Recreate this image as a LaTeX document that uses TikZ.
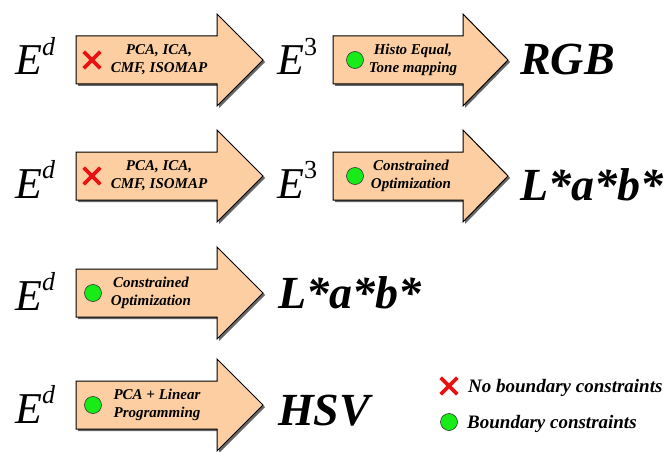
\documentclass[tikz,border=0pt]{standalone}
\usepackage{fontspec}
\setmainfont{Liberation Serif}
\usetikzlibrary{shadows,shapes.misc}
\definecolor{peach}{RGB}{252,206,162}
\definecolor{markred}{RGB}{232,18,18}
\definecolor{dotgreen}{RGB}{24,236,24}

\begin{document}
\begin{tikzpicture}[x=1pt, y=-1pt,
    bigarrow/.style={draw=black, line width=1pt, fill=peach, line join=miter,
      drop shadow={shadow xshift=2pt, shadow yshift=-2pt, fill=black!75, opacity=0.8}},
    boxtext/.style={font=\fontsize{15}{18}\selectfont\bfseries\itshape, align=center, inner sep=0},
    spacename/.style={font=\fontsize{44}{44}\selectfont, anchor=base west, inner sep=0},
    colorspace/.style={font=\fontsize{46}{46}\selectfont\bfseries\itshape, anchor=base west, inner sep=0},
    legendtext/.style={font=\fontsize{19}{19}\selectfont\bfseries\itshape, anchor=base west, inner sep=0},
    nobound/.style={cross out, draw=markred, line width=3.6pt, minimum size=13pt, inner sep=0},
    bound/.style={circle, draw=black!80, line width=0.6pt, fill=dotgreen, minimum size=17pt, inner sep=0}]
    \useasboundingbox[fill=white] (0,0) rectangle (667,452);

    % row 1
    \draw[bigarrow] (76,36) -- (217,36) -- (217,14) -- (263,60) -- (217,106) -- (217,84) -- (76,84) -- cycle;
    \draw[bigarrow] (333,36) -- (463,36) -- (463,14) -- (508,60) -- (463,106) -- (463,84) -- (333,84) -- cycle;
    \node[spacename] (ed1) at (15,75) {\textit{E}\raisebox{20pt}{\fontsize{26}{26}\selectfont\textit{d}}};
    \node[nobound] (x1) at (92,60) {};
    \node[boxtext] (pca1) at (159,60) {PCA, ICA,\\CMF, ISOMAP};
    \node[spacename] (e31) at (277,75) {\textit{E}\raisebox{20pt}{\fontsize{26}{26}\selectfont 3}};
    \node[bound] (dot1) at (355,60) {};
    \node[boxtext] (histo) at (413,60) {Histo Equal,\\Tone mapping};
    \node[colorspace] (rgb) at (520,75) {RGB};

    % row 2
    \draw[bigarrow] (76,152) -- (217,152) -- (217,130) -- (263,176) -- (217,222) -- (217,200) -- (76,200) -- cycle;
    \draw[bigarrow] (333,152) -- (463,152) -- (463,130) -- (508,176) -- (463,222) -- (463,200) -- (333,200) -- cycle;
    \node[spacename] (ed2) at (15,198) {\textit{E}\raisebox{20pt}{\fontsize{26}{26}\selectfont\textit{d}}};
    \node[nobound] (x2) at (92,176) {};
    \node[boxtext] (pca2) at (159,176) {PCA, ICA,\\CMF, ISOMAP};
    \node[spacename] (e32) at (277,198) {\textit{E}\raisebox{20pt}{\fontsize{26}{26}\selectfont 3}};
    \node[bound] (dot2) at (355,176) {};
    \node[boxtext] (cons2) at (411,176) {Constrained\\Optimization};
    \node[colorspace] (lab2) at (520,200) {L*a*b*};

    % row 3
    \draw[bigarrow] (76,269) -- (217,269) -- (217,247) -- (263,293) -- (217,339) -- (217,317) -- (76,317) -- cycle;
    \node[spacename] (ed3) at (15,310) {\textit{E}\raisebox{20pt}{\fontsize{26}{26}\selectfont\textit{d}}};
    \node[bound] (dot3) at (93,293) {};
    \node[boxtext] (cons3) at (151,293) {Constrained\\Optimization};
    \node[colorspace] (lab3) at (278,308) {L*a*b*};

    % row 4
    \draw[bigarrow] (76,381) -- (217,381) -- (217,359) -- (263,405) -- (217,451) -- (217,429) -- (76,429) -- cycle;
    \node[spacename] (ed4) at (15,423) {\textit{E}\raisebox{20pt}{\fontsize{26}{26}\selectfont\textit{d}}};
    \node[bound] (dot4) at (93,405) {};
    \node[boxtext] (linprog) at (157,405) {PCA + Linear\\Programming};
    \node[colorspace] (hsv) at (278,425) {HSV};

    % legend
    \node[nobound] (keyx) at (449,386) {};
    \node[legendtext] (keyxtext) at (468,392) {No boundary constraints};
    \node[bound] (keydot) at (449,422) {};
    \node[legendtext] (keydottext) at (467,428) {Boundary constraints};
\end{tikzpicture}
\end{document}
